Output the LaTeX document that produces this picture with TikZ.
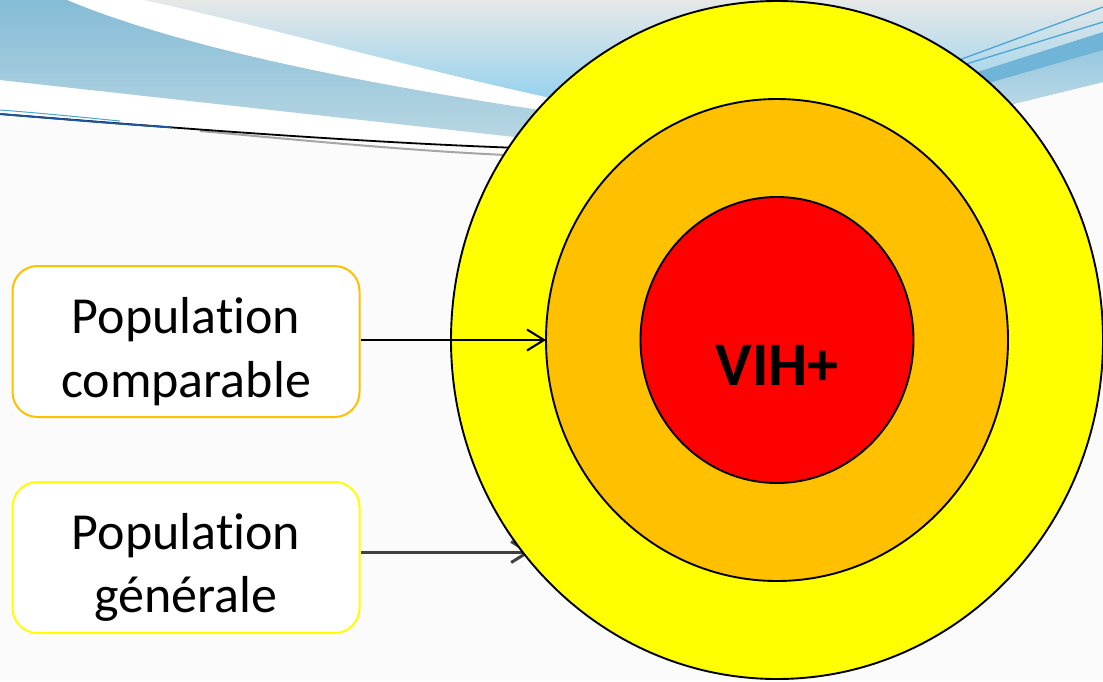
\documentclass[tikz,border=0pt]{standalone}
\usepackage{fontspec}
\setmainfont{Carlito}[RawFeature={-liga}]
\usetikzlibrary{shapes.geometric,arrows.meta}
\definecolor{bg}{HTML}{FBFBFB}
\definecolor{topgrey}{HTML}{E6E8E8}
\definecolor{skyblue}{HTML}{92D1EE}
\definecolor{bandtop}{HTML}{85BCD6}
\definecolor{bandbot}{HTML}{B9D7E3}
\definecolor{darkband}{HTML}{70B4D7}
\definecolor{lightbandtop}{HTML}{92C5DE}
\definecolor{lightbandbot}{HTML}{C2DDE8}
\definecolor{thinblue}{HTML}{4AA6D9}
\definecolor{lineblue}{HTML}{1D55A5}
\definecolor{yel}{HTML}{FFFF00}
\definecolor{org}{HTML}{FFC000}
\definecolor{rd}{HTML}{FF0000}
\definecolor{arrgrey}{HTML}{404040}
\begin{document}
\begin{tikzpicture}[x=1pt,y=-1pt,
  ring/.style={ellipse, draw=black, line width=1.9pt, inner sep=0pt, outer sep=0pt},
  popbox/.style={rectangle, rounded corners=25pt, fill=white, line width=2pt, minimum width=347pt, minimum height=151pt, inner sep=0pt},
  lbl/.style={font=\fontsize{52pt}{62pt}\selectfont, inner sep=0pt, anchor=base},
  arrA/.style={line width=2.1pt, -{Straight Barb[length=17pt,width=21pt]}},
  arrB/.style={line width=3pt, draw=arrgrey, -{Straight Barb[length=17pt,width=21pt]}}]
\useasboundingbox (0,0) rectangle (1103,681);
% background
\fill[bg] (0,0) rectangle (1103,681);
\fill[white] (0,0) -- (640,0) -- (640,150) -- (520,148) .. controls (350,142) and (150,126) .. (0,114) -- cycle;
\shade[top color=topgrey, bottom color=skyblue] (144,0) .. controls (260,25) and (420,70) .. (560,100) -- (1013,104) -- (1103,82) -- (1103,0) -- cycle;
\shade[top color=bandtop, bottom color=bandbot] (0,0) -- (67,0) .. controls (150,35) and (300,75) .. (560,113) -- (560,142) -- (0,80) -- cycle;
\shade[top color=lightbandtop, bottom color=lightbandbot] (940,95) -- (1103,40) -- (1103,82) -- (1013,104) -- (940,120) -- cycle;
\fill[darkband] (940,84) -- (1103,32) -- (1103,50) -- (940,97) -- cycle;
\draw[thinblue, line width=1.3pt] (940,67) -- (1103,7);
\draw[thinblue, line width=1.3pt] (940,72) -- (1103,22);
\draw[gray!70, line width=2pt] (200,131) .. controls (300,140) and (420,152) .. (530,156);
\draw[black, line width=1.8pt] (0,114) .. controls (150,126) and (350,142) .. (520,148);
\draw[lineblue, line width=1.8pt] (0,114) .. controls (60,119) and (120,124) .. (172,127.4);
\draw[thinblue, line width=1pt] (0,110) .. controls (40,113) and (80,117) .. (120,121);
% boxes
\node[popbox, draw=org] (b1) at (186,341.5) {};
\node[popbox, draw=yel] (b2) at (186,557.5) {};
% arrow behind the circles
\coordinate (tip2) at (531,552);
\draw[arrB] (b2.east |- tip2) -- (tip2);
% circles
\node[ring, fill=yel, minimum width=652pt, minimum height=678pt] (yc) at (777,340) {};
\node[ring, fill=org, minimum width=462pt, minimum height=482pt] (oc) at (777,340) {};
\node[ring, fill=rd, minimum width=273pt, minimum height=286pt] (rc) at (777,340) {};
\draw[arrA] (b1.east |- oc.west) -- (oc.west);
% texts
\node[lbl] (t1a) at (186,333) {Population};
\node[lbl] (t1b) at (186,397) {comparable};
\node[lbl] (t2a) at (186,549) {Population};
\node[lbl] (t2b) at (186,612) {générale};
\node[lbl, font=\bfseries\fontsize{62pt}{70pt}\selectfont] (vih) at (777,385) {VIH+};
\end{tikzpicture}
\end{document}
